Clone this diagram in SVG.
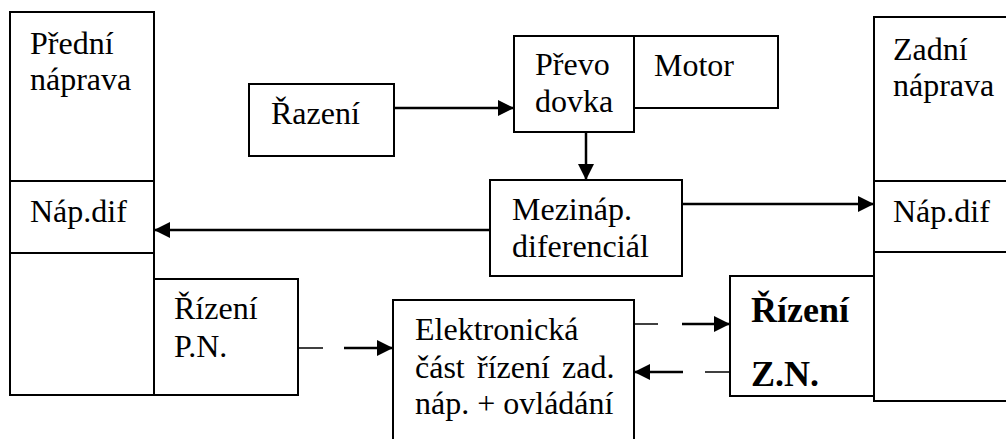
<svg xmlns="http://www.w3.org/2000/svg" width="1006" height="439" viewBox="0 0 1006 439">
<style>
.box{fill:#fff;stroke:#000;stroke-width:2}
.ln{fill:none;stroke:#000;stroke-width:2}
.t{font-family:'Liberation Serif','Times New Roman','Tinos','Nimbus Roman','Nimbus Roman No9 L','FreeSerif','Noto Serif','DejaVu Serif',Times,serif;font-size:32px;fill:#000}
.b{font-family:'Liberation Serif','Times New Roman','Tinos','Nimbus Roman','Nimbus Roman No9 L','FreeSerif','Noto Serif','DejaVu Serif',Times,serif;font-size:36px;font-weight:bold;fill:#000}
.c{fill:none;stroke:#000;stroke-width:2.5}
.thin{fill:none;stroke:#000;stroke-width:1.5}
</style>
<defs>
<marker id="ah" markerUnits="userSpaceOnUse" markerWidth="17" markerHeight="17" refX="16" refY="8" orient="auto">
<path d="M0,0 L16,8 L0,16 Z" fill="#000"/>
</marker>
</defs>
<g id="predni">
<rect class="box" x="10" y="12" width="144" height="383"/>
<line class="ln" x1="10" y1="181" x2="154" y2="181"/>
<line class="ln" x1="10" y1="253" x2="154" y2="253"/>
<text class="t" x="30" y="54">Přední</text>
<text class="t" x="30" y="90">náprava</text>
<text class="t" x="30" y="222">Náp.dif</text>
</g>
<g id="rizeni-pn">
<rect class="box" x="154" y="279" width="144" height="116"/>
<text class="t" x="174" y="319">Řízení</text>
<text class="t" x="174" y="357">P.N.</text>
</g>
<g id="razeni">
<rect class="box" x="249" y="84" width="145" height="72"/>
<text class="t" x="271" y="124">Řazení</text>
</g>
<g id="prevodovka">
<rect class="box" x="514" y="36" width="120" height="96"/>
<text class="t" x="535" y="75">Převo</text>
<text class="t" x="535" y="112">dovka</text>
</g>
<g id="motor">
<rect class="box" x="634" y="36" width="144" height="72"/>
<text class="t" x="654" y="76">Motor</text>
</g>
<g id="mezinap">
<rect class="box" x="490" y="180" width="192" height="96"/>
<text class="t" x="512" y="220">Mezináp.</text>
<text class="t" x="512" y="257">diferenciál</text>
</g>
<g id="zadni">
<rect class="box" x="874" y="17" width="140" height="384"/>
<line class="ln" x1="874" y1="181" x2="1010" y2="181"/>
<line class="ln" x1="874" y1="252" x2="1010" y2="252"/>
<text class="t" x="893" y="60">Zadní</text>
<text class="t" x="893" y="96">náprava</text>
<text class="t" x="893" y="222">Náp.dif</text>
</g>
<g id="rizeni-zn">
<rect class="box" x="730" y="276" width="144" height="120"/>
<text class="b" x="751" y="322">Řízení</text>
<text class="b" x="751" y="386">Z.N.</text>
</g>
<g id="elektronicka">
<rect class="box" x="393" y="300" width="241" height="150"/>
<text class="t" x="415" y="340">Elektronická</text>
<text class="t" y="378"><tspan x="415">část</tspan><tspan x="477">řízení</tspan><tspan x="562">zad.</tspan></text>
<text class="t" x="415" y="414">náp. + ovládání</text>
</g>
<g id="connectors">
<line class="c" x1="394" y1="108" x2="514" y2="108" marker-end="url(#ah)"/>
<line class="c" x1="586" y1="132" x2="586" y2="180" marker-end="url(#ah)"/>
<line class="c" x1="490" y1="230" x2="154" y2="230" marker-end="url(#ah)"/>
<line class="c" x1="682" y1="204" x2="874" y2="204" marker-end="url(#ah)"/>
<line class="thin" x1="298" y1="348" x2="323" y2="348"/>
<line class="c" x1="344" y1="348" x2="393" y2="348" marker-end="url(#ah)"/>
<line class="thin" x1="634" y1="324" x2="658" y2="324"/>
<line class="c" x1="682" y1="324" x2="730" y2="324" marker-end="url(#ah)"/>
<line class="thin" x1="730" y1="372" x2="705" y2="372"/>
<line class="c" x1="683" y1="372" x2="634" y2="372" marker-end="url(#ah)"/>
</g>
</svg>
